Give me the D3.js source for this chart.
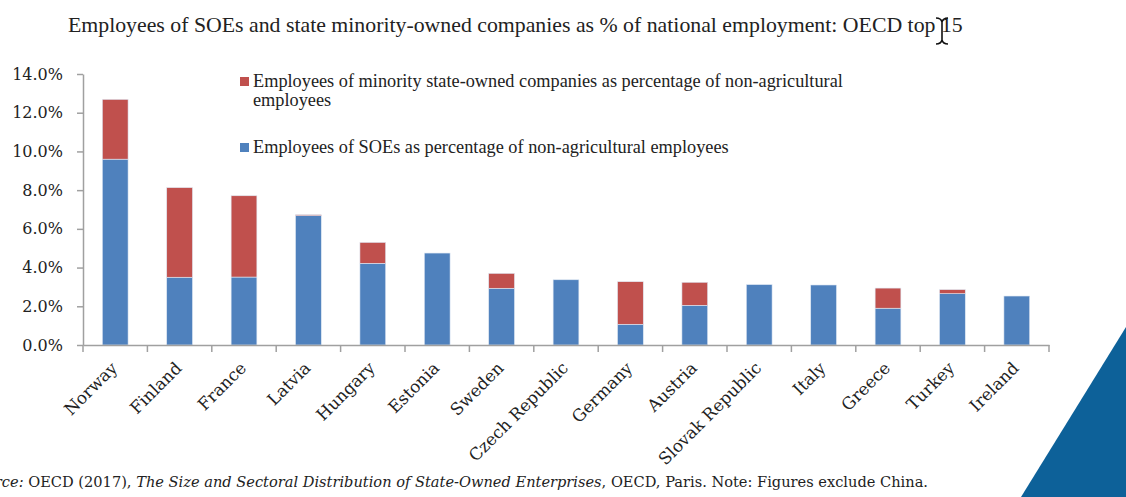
<!DOCTYPE html>
<html>
<head>
<meta charset="utf-8">
<script src="https://cdnjs.cloudflare.com/ajax/libs/d3/7.8.5/d3.min.js"></script>
<style>
  body { margin: 0; background: #fff; }
  svg { display: block; }
</style>
</head>
<body>
<svg id="chart"></svg>
<script>
// values (% of non-agricultural employees)
const countries = ["Norway", "Finland", "France", "Latvia", "Hungary", "Estonia", "Sweden",
    "Czech Republic", "Germany", "Austria", "Slovak Republic", "Italy", "Greece", "Turkey", "Ireland"];
const soeShare = [9.6, 3.5, 3.51, 6.68, 4.22, 4.75, 2.93, 3.37, 1.07, 2.05, 3.12, 3.1, 1.9, 2.65, 2.53];
const minorityShare = [3.09, 4.63, 4.2, 0.05, 1.08, 0, 0.77, 0, 2.2, 1.19, 0, 0, 1.04, 0.21, 0];
const yTicks = [0, 2, 4, 6, 8, 10, 12, 14];

const seriesKeys = ["soe", "minority"];
const seriesColors = { soe: "#4f81bd", minority: "#c0504d" };
const legendLabels = {
    minority: ["Employees of minority state-owned companies as percentage of non-agricultural", "employees"],
    soe: ["Employees of SOEs as percentage of non-agricultural employees"]
};

const title = "Employees of SOEs and state minority-owned companies as % of national employment: OECD top 15";

const width = 1126, height = 497;
const margin = { top: 74, right: 77, bottom: 152, left: 83 };

const svg = d3.select("#chart").attr("width", width).attr("height", height);

const rows = countries.map((c, i) => ({ country: c, soe: soeShare[i], minority: minorityShare[i] }));
const stacked = d3.stack().keys(seriesKeys)(rows);

const x = d3.scaleBand()
    .domain(countries)
    .range([margin.left, width - margin.right])
    .paddingInner(0.6)
    .paddingOuter(0.3);

const y = d3.scaleLinear()
    .domain([0, 14])
    .range([height - margin.bottom, margin.top]);

// corner decoration
svg.append("path")
    .attr("d", "M1126,327 L1126,497 L1021,497 Z")
    .attr("fill", "#0d6199");

// title
svg.append("text")
    .attr("x", 68)
    .attr("y", 32)
    .attr("font-family", "Liberation Serif, serif")
    .attr("font-size", 21.8)
    .attr("fill", "#222")
    .text(title);

// text cursor sitting on the title
svg.append("path")
    .attr("d", "M936,18 Q941,18 942,22 Q943,18 948,18 M942,22 L942,40 M936,44 Q941,44 942,40 Q943,44 948,44")
    .attr("fill", "none")
    .attr("stroke", "#111")
    .attr("stroke-width", 1.6);

// bars
const layers = svg.append("g").selectAll("g")
    .data(stacked)
    .enter()
    .append("g")
    .attr("fill", d => seriesColors[d.key]);

layers.selectAll("rect")
    .data(d => d)
    .enter()
    .append("rect")
    .attr("x", d => x(d.data.country))
    .attr("y", d => y(d[1]))
    .attr("width", x.bandwidth())
    .attr("height", d => y(d[0]) - y(d[1]))
    .attr("stroke", "#dfe8f3")
    .attr("stroke-width", 0.6);

// y axis
const yAxis = svg.append("g")
    .attr("transform", `translate(${margin.left},0)`)
    .call(d3.axisLeft(y).tickValues(yTicks).tickFormat(d => d.toFixed(1) + "%").tickSize(6).tickSizeOuter(0));

yAxis.select(".domain").attr("stroke", "#a0a0a0").attr("stroke-width", 1.5);
yAxis.selectAll(".tick line").attr("stroke", "#a0a0a0").attr("stroke-width", 1.5);
yAxis.selectAll(".tick text")
    .attr("x", -20)
    .attr("font-family", "DejaVu Serif, serif")
    .attr("font-size", 16)
    .attr("fill", "#222");

// x axis: labels at band centres, ticks at band boundaries
const xAxis = svg.append("g")
    .attr("transform", `translate(0,${y(0)})`)
    .call(d3.axisBottom(x).tickSize(0).tickSizeOuter(0));

xAxis.select(".domain").attr("stroke", "#a0a0a0").attr("stroke-width", 1.5);
xAxis.selectAll(".tick text")
    .attr("x", 0)
    .attr("y", 0)
    .attr("dy", "0.35em")
    .attr("transform", "translate(-1,20) rotate(-45)")
    .style("text-anchor", "end")
    .attr("font-family", "DejaVu Serif, serif")
    .attr("font-size", 16.8)
    .attr("fill", "#222");

const boundaries = d3.range(countries.length + 1).map(i => x.range()[0] + i * x.step());
xAxis.selectAll(".sep")
    .data(boundaries)
    .enter()
    .append("line")
    .attr("class", "sep")
    .attr("x1", d => d).attr("x2", d => d)
    .attr("y1", 0).attr("y2", 7)
    .attr("stroke", "#a0a0a0")
    .attr("stroke-width", 1.5);

// legend
const legendItems = [
    { key: "minority", top: 77 },
    { key: "soe", top: 143 }
];
const legend = svg.append("g");
legendItems.forEach(item => {
    legend.append("rect")
        .attr("x", 240)
        .attr("y", item.top)
        .attr("width", 9)
        .attr("height", 9)
        .attr("fill", seriesColors[item.key]);
    const t = legend.append("text")
        .attr("x", 253)
        .attr("y", item.top + 10)
        .attr("font-family", "Liberation Serif, serif")
        .attr("font-size", 18.3)
        .attr("fill", "#222");
    legendLabels[item.key].forEach((line, i) => {
        t.append("tspan").attr("x", 253).attr("dy", i === 0 ? 0 : 19).text(line);
    });
});

// source note, cut off at the left edge like the reference
const src = svg.append("text")
    .attr("x", 928)
    .attr("y", 487)
    .attr("text-anchor", "end")
    .attr("font-family", "DejaVu Serif, serif")
    .attr("font-size", 14.6)
    .attr("fill", "#222");
src.append("tspan").attr("font-style", "italic").text("Source:");
src.append("tspan").text(" OECD (2017), ");
src.append("tspan").attr("font-style", "italic").text("The Size and Sectoral Distribution of State-Owned Enterprises");
src.append("tspan").text(", OECD, Paris. Note: Figures exclude China.");
</script>
</body>
</html>
